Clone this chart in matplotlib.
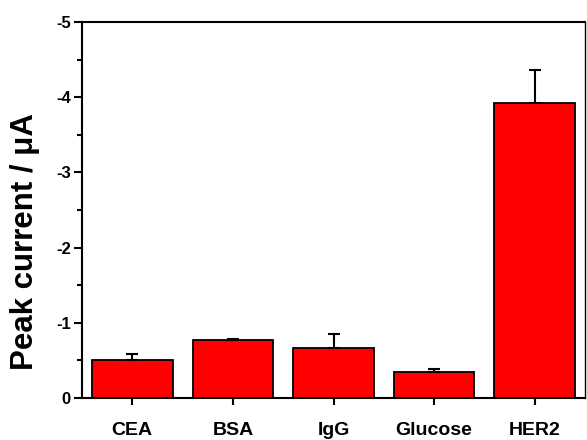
import matplotlib.pyplot as plt
from matplotlib.ticker import MultipleLocator

plt.rcParams['font.family'] = ['Liberation Sans', 'DejaVu Sans']
plt.rcParams['font.weight'] = 'bold'
plt.rcParams['axes.unicode_minus'] = False

# peak currents (uA) and one-sided error bars
labels = ['CEA', 'BSA', 'IgG', 'Glucose', 'HER2']
peak = [-0.51, -0.77, -0.66, -0.34, -3.92]
err = [0.07, 0.015, 0.19, 0.04, 0.44]

fig = plt.figure(figsize=(5.87, 4.40), dpi=100)
ax = fig.add_axes([82 / 587, 42 / 440, 503 / 587, 376 / 440])

x = range(len(labels))
ax.bar(x, peak, width=0.8, color='#ff0000', edgecolor='black', linewidth=1.3,
       yerr=[err, [0] * len(err)], capsize=4.5,
       error_kw=dict(ecolor='black', elinewidth=1.5, capthick=1.5))

ax.set_xlim(-0.5, 4.5)
ax.set_ylim(0, -5)
ax.set_xticks(list(x))
ax.set_xticklabels(labels, fontsize=14, fontweight='bold')
ax.yaxis.set_minor_locator(MultipleLocator(0.5))
ax.set_yticks([0, -1, -2, -3, -4, -5])
ax.set_yticklabels(['0', '-1', '-2', '-3', '-4', '-5'], fontsize=12, fontweight='bold')

ax.tick_params(axis='x', direction='out', length=5, width=1.5, pad=12)
ax.tick_params(axis='y', which='major', direction='out', length=6, width=1.5, pad=2)
ax.tick_params(axis='y', which='minor', direction='out', length=3.5, width=1.5)

for s in ax.spines.values():
    s.set_linewidth(1.5)
ax.spines['right'].set_linewidth(1.0)

ax.set_ylabel('Peak current / μA', fontsize=22.5, fontweight='bold')
ax.yaxis.set_label_coords(-0.084, 0.415)

fig.savefig('out.png', dpi=100)
